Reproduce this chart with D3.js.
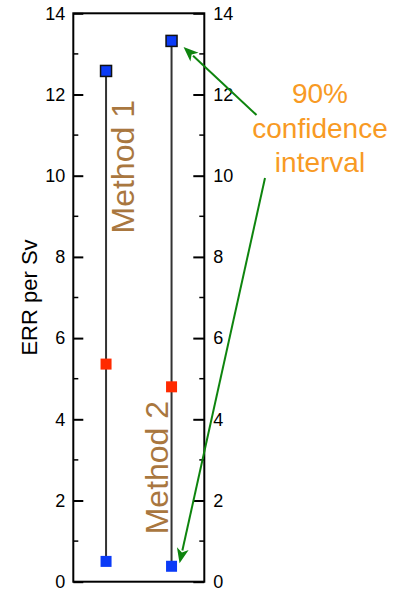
<!DOCTYPE html>
<html>
<head>
<meta charset="utf-8">
<script src="https://cdn.jsdelivr.net/npm/d3@7"></script>
<style>
  body { margin: 0; background: #fff; }
  svg text { font-family: "Liberation Sans", Helvetica, Arial, sans-serif; }
</style>
</head>
<body>
<svg id="chart" width="401" height="592"></svg>
<script>
// Two estimation methods, 90% CI bounds and central value (ERR per Sv).
const methods = ["Method 1", "Method 2"];
const upper = [12.58, 13.32];
const central = [5.36, 4.80];
const lower = [0.50, 0.38];
const majorTicks = [0, 2, 4, 6, 8, 10, 12, 14];
const minorTicks = [1, 3, 5, 7, 9, 11, 13];
const noteLines = ["90%", "confidence", "interval"];

(function () {
  const svg = d3.select("#chart");
  const fL = 73.3, fR = 204.3, fT = 13.3, fB = 581.7;

  const x = d3.scalePoint().domain(methods).range([fL, fR]).padding(0.5);
  const y = d3.scaleLinear().domain([0, 14]).range([fB, fT]);

  // frame
  svg.append("rect")
    .attr("x", fL).attr("y", fT)
    .attr("width", fR - fL).attr("height", fB - fT)
    .attr("fill", "none").attr("stroke", "#000").attr("stroke-width", 2);

  // ticks point inward on both sides
  const axisL = d3.axisLeft(y).tickValues(majorTicks).tickSize(-10).tickPadding(8);
  const axisR = d3.axisRight(y).tickValues(majorTicks).tickSize(-11).tickPadding(9);
  const gl = svg.append("g").attr("transform", `translate(${fL},0)`).call(axisL);
  const gr = svg.append("g").attr("transform", `translate(${fR},0)`).call(axisR);
  [gl, gr].forEach((g) => {
    g.select(".domain").remove();
    g.selectAll("line").attr("stroke", "#000").attr("stroke-width", 2);
    g.selectAll("text").attr("font-size", 18).attr("fill", "#000")
      .style("font-family", '"Liberation Sans", Helvetica, Arial, sans-serif');
  });
  [[fL, 1], [fR, -1]].forEach(([x0, dir]) => {
    svg.append("g").selectAll("line").data(minorTicks).join("line")
      .attr("x1", x0).attr("x2", x0 + dir * 5)
      .attr("y1", (d) => y(d)).attr("y2", (d) => y(d))
      .attr("stroke", "#000").attr("stroke-width", 1.5);
  });

  // y label
  svg.append("text")
    .attr("transform", `translate(37,${y(7.0)}) rotate(-90)`)
    .attr("text-anchor", "middle")
    .attr("font-size", 22)
    .text("ERR per Sv");

  // interval lines
  svg.append("g").selectAll("line").data(methods).join("line")
    .attr("x1", (d) => x(d)).attr("x2", (d) => x(d))
    .attr("y1", (d, i) => y(upper[i])).attr("y2", (d, i) => y(lower[i]))
    .attr("stroke", "#333").attr("stroke-width", 2);

  const s = 11;
  function squares(vals, fill, stroke) {
    svg.append("g").selectAll("rect").data(methods).join("rect")
      .attr("x", (d) => x(d) - s / 2)
      .attr("y", (d, i) => y(vals[i]) - s / 2)
      .attr("width", s).attr("height", s)
      .attr("fill", fill)
      .attr("stroke", stroke || "none")
      .attr("stroke-width", 1.5);
  }
  squares(upper, "#0b3bf7", "#111");
  squares(central, "#ff2a00");
  squares(lower, "#0b3bf7");

  // method labels, rotated
  const methodLabel = [
    { dx: 28, v: 10.22 },
    { dx: -3.5, v: 2.81 },
  ];
  svg.append("g").selectAll("text").data(methods).join("text")
    .attr("transform", (d, i) =>
      `translate(${x(d) + methodLabel[i].dx},${y(methodLabel[i].v)}) rotate(-90)`)
    .attr("text-anchor", "middle")
    .attr("font-size", 32)
    .attr("fill", "#a9773f")
    .text((d) => d);

  // annotation
  const noteX = 320, noteY = 103, lineH = 34.5;
  svg.append("g").selectAll("text").data(noteLines).join("text")
    .attr("x", noteX).attr("y", (d, i) => noteY + i * lineH)
    .attr("text-anchor", "middle")
    .attr("font-size", 28)
    .attr("fill", "#f89a24")
    .text((d) => d);

  const green = "#0e840e";
  const arrows = [
    { from: [256.5, 115], to: [x(methods[1]) + 12, y(upper[1]) + 6] },
    { from: [265, 178], to: [x(methods[1]) + 8, y(lower[1]) - 3] },
  ];
  arrows.forEach((a) => {
    const [x1, y1] = a.from, [x2, y2] = a.to;
    const len = Math.hypot(x2 - x1, y2 - y1);
    const ux = (x2 - x1) / len, uy = (y2 - y1) / len;
    const hl = 15, hw = 6;
    const bx = x2 - ux * hl, by = y2 - uy * hl;
    svg.append("line")
      .attr("x1", x1).attr("y1", y1).attr("x2", bx + ux * 2).attr("y2", by + uy * 2)
      .attr("stroke", green).attr("stroke-width", 2);
    svg.append("polygon")
      .attr("points", [[x2, y2], [bx - uy * hw, by + ux * hw], [bx + ux * 4, by + uy * 4], [bx + uy * hw, by - ux * hw]]
        .map((p) => p.join(",")).join(" "))
      .attr("fill", green);
  });
})();
</script>
</body>
</html>
